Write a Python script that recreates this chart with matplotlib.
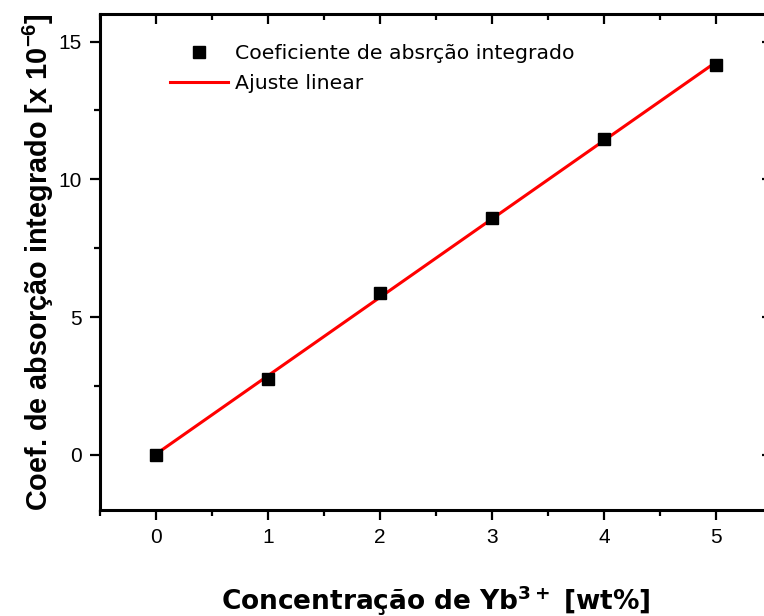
import numpy as np
import matplotlib
matplotlib.use("Agg")
import matplotlib.pyplot as plt
from matplotlib.ticker import MultipleLocator

# Data
concentration = [0, 1, 2, 3, 4, 5]
coef_abs = [0.0, 2.77, 5.88, 8.58, 11.46, 14.16]
legend_points = "Coeficiente de absrção integrado"
legend_fit = "Ajuste linear"
xlabel = r"Concentração de Yb$^{\mathbf{3+}}$ [wt%]"
ylabel = r"Coef. de absorção integrado [x 10$^{\mathbf{-6}}$]"

plt.rcParams['mathtext.fontset'] = 'custom'
plt.rcParams['mathtext.rm'] = 'Liberation Sans'
plt.rcParams['mathtext.bf'] = 'Liberation Sans:bold'

W, H = 764, 616
fig = plt.figure(figsize=(W / 100, H / 100), dpi=100)
ax = fig.add_axes([100 / W, (H - 510) / H, (772 - 100) / W, (510 - 14) / H])

slope, intercept = np.polyfit(concentration, coef_abs, 1)
xf = np.array([concentration[0], concentration[-1]])
ax.plot(xf, slope * xf + intercept, color='#ff0000', lw=2.2, label=legend_fit, zorder=2)
ax.plot(concentration, coef_abs, 's', color='black', ms=8, label=legend_points, zorder=3)

ax.set_xlim(-0.5, 5.5)
ax.set_ylim(-2, 16)
ax.xaxis.set_major_locator(MultipleLocator(1))
ax.xaxis.set_minor_locator(MultipleLocator(0.5))
ax.yaxis.set_major_locator(MultipleLocator(5))
ax.yaxis.set_minor_locator(MultipleLocator(2.5))

for s in ax.spines.values():
    s.set_linewidth(2.2)

ax.tick_params(which='both', direction='out', width=1.6, top=False, right=False,
               labelsize=15, labelfontfamily='Liberation Sans')
ax.tick_params(which='major', length=7, pad=6)
ax.tick_params(which='minor', length=4)

# inward ticks on top and right
ax2 = ax.twiny()
ax2.set_xlim(ax.get_xlim())
ax2.xaxis.set_major_locator(MultipleLocator(1))
ax2.xaxis.set_minor_locator(MultipleLocator(0.5))
ax2.tick_params(which='both', direction='in', width=1.6, labeltop=False)
ax2.tick_params(which='major', length=7)
ax2.tick_params(which='minor', length=4)
ax3 = ax.twinx()
ax3.set_ylim(ax.get_ylim())
ax3.yaxis.set_major_locator(MultipleLocator(5))
ax3.yaxis.set_minor_locator(MultipleLocator(2.5))
ax3.tick_params(which='both', direction='in', width=1.6, labelright=False)
ax3.tick_params(which='major', length=7)
ax3.tick_params(which='minor', length=4)
for a in (ax2, ax3):
    for s in a.spines.values():
        s.set_visible(False)

ax.set_xlabel(xlabel, fontsize=19, fontweight='bold', family='DejaVu Sans',
              math_fontfamily='dejavusans', labelpad=26)
ax.set_ylabel(ylabel, fontsize=20.8, fontweight='bold', family='Liberation Sans',
              labelpad=1.5)

leg = ax.legend(handles=[ax.lines[1], ax.lines[0]], loc='upper left',
                bbox_to_anchor=(170 / W, 1 - 44 / H), bbox_transform=fig.transFigure,
                frameon=False, handlelength=2.85, handletextpad=0.35,
                labelspacing=0.55, borderpad=0, borderaxespad=0,
                prop={'family': 'DejaVu Sans', 'size': 14.7})

fig.savefig('out.png', dpi=100)
